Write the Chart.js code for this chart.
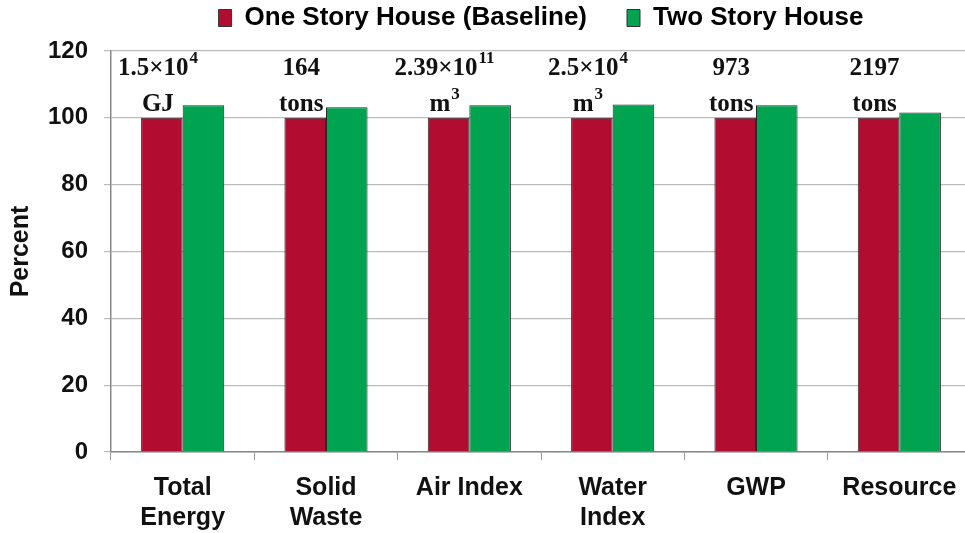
<!DOCTYPE html>
<html>
<head>
<meta charset="utf-8">
<script src="https://cdn.jsdelivr.net/npm/chart.js@4/dist/chart.umd.min.js"></script>
<style>
  html, body { margin: 0; padding: 0; background: #fff; overflow: hidden; }
  #wrap { position: relative; width: 973px; height: 533px; }
</style>
</head>
<body>
<div id="wrap"><canvas id="impactChart"></canvas></div>
<script>
// Life-cycle impact of a two story house relative to the one story baseline

const categories = [['Total', 'Energy'], ['Solid', 'Waste'], 'Air Index', ['Water', 'Index'], 'GWP', 'Resource'];
const oneStory = [100, 100, 100, 100, 100, 100];
const twoStory = [103.8, 103.2, 103.8, 104.0, 103.8, 101.6];
const yTicks = [0, 20, 40, 60, 80, 100, 120];

// absolute baseline amounts written above each group
const baseAmount = ['1.5×10', '164', '2.39×10', '2.5×10', '973', '2197'];
const baseAmountExp = ['4', '', '11', '4', '', ''];
const baseUnit = ['GJ', 'tons', 'm', 'm', 'tons', 'tons'];
const baseUnitExp = ['', '', '3', '3', '', ''];

const RED = '#b20d30';
const GREEN = '#00a34f';
const AXIS_LEFT = 111;
const X_AXIS_HEIGHT = 81;

// text with an optional raised exponent, centred on x
function drawSup(ctx, x, y, base, exp) {
    const mainFont = 'bold 25px "Liberation Serif", "Times New Roman", serif';
    const supFont = 'bold 17px "Liberation Serif", "Times New Roman", serif';
    ctx.font = mainFont;
    const w1 = ctx.measureText(base).width;
    ctx.font = supFont;
    const w2 = exp ? ctx.measureText(exp).width + 1 : 0;
    const left = x - (w1 + w2) / 2;
    ctx.textAlign = 'left';
    ctx.textBaseline = 'alphabetic';
    ctx.font = mainFont;
    ctx.fillText(base, left, y);
    if (exp) {
        ctx.font = supFont;
        ctx.fillText(exp, left + w1 + 1, y - 12);
    }
}

const baselineLabels = {
    id: 'baselineLabels',
    beforeDatasetsDraw(chart) {
        const ctx = chart.ctx;
        const meta = chart.getDatasetMeta(0);
        const y = chart.scales.y;
        ctx.save();
        ctx.fillStyle = '#111';
        meta.data.forEach((bar, i) => {
            const top = y.getPixelForValue(oneStory[i]);
            const cx = bar.x - 4;
            drawSup(ctx, cx, top - 43, baseAmount[i], baseAmountExp[i]);
            drawSup(ctx, cx, top - 7, baseUnit[i], baseUnitExp[i]);
        });
        ctx.restore();
    }
};

new Chart(document.getElementById('impactChart'), {
    type: 'bar',
    data: {
        labels: categories,
        datasets: [
            { label: 'One Story House (Baseline)', data: oneStory, backgroundColor: RED, borderColor: '#2a2a2a', borderWidth: 1 },
            { label: 'Two Story House', data: twoStory, backgroundColor: GREEN, borderColor: '#2a2a2a', borderWidth: 1 }
        ]
    },
    options: {
        responsive: true,
        maintainAspectRatio: false,
        animation: false,
        categoryPercentage: 0.58,
        barPercentage: 1.0,
        layout: { padding: { top: -35, right: 2, left: 0, bottom: 0 } },
        plugins: {
            legend: {
                display: true,
                position: 'top',
                fullSize: false,
                labels: {
                    color: '#111',
                    font: { family: 'Liberation Sans', weight: 'bold', size: 26 },
                    boxWidth: 13,
                    boxHeight: 17,
                    padding: 40,
                    generateLabels(chart) {
                        return chart.data.datasets.map((ds, i) => ({
                            text: ds.label,
                            fillStyle: ds.backgroundColor,
                            strokeStyle: '#333',
                            lineWidth: 1,
                            datasetIndex: i
                        }));
                    }
                }
            },
            // empty title used as a spacer between legend and plot
            title: {
                display: true,
                text: '',
                weight: 500,
                fullSize: false,
                font: { size: 10, lineHeight: 1.0 },
                padding: 0
            },
            tooltip: { enabled: false }
        },
        scales: {
            x: {
                afterFit(scale) { scale.height = X_AXIS_HEIGHT; },
                grid: { drawOnChartArea: false, drawTicks: true, tickLength: 8, color: '#999', offset: true },
                border: { color: '#888', width: 1.5 },
                ticks: {
                    color: '#111',
                    font: { family: 'Liberation Sans', weight: 'bold', size: 25, lineHeight: 1.2 },
                    padding: 13,
                    maxRotation: 0,
                    autoSkip: false
                }
            },
            y: {
                min: 0,
                max: 120,
                afterBuildTicks(scale) { scale.ticks = yTicks.map(v => ({ value: v })); },
                afterFit(scale) { scale.width = AXIS_LEFT; },
                grid: { color: '#bbb', tickLength: 7, lineWidth: 1.2 },
                border: { color: '#888', width: 1.5 },
                ticks: {
                    color: '#111',
                    font: { family: 'Liberation Sans', weight: 'bold', size: 24 },
                    padding: 16
                },
                title: {
                    display: true,
                    text: 'Percent',
                    color: '#111',
                    font: { family: 'Liberation Sans', weight: 'bold', size: 25 },
                    padding: { top: 6, bottom: 0 }
                }
            }
        }
    },
    plugins: [baselineLabels]
});
</script>
</body>
</html>
